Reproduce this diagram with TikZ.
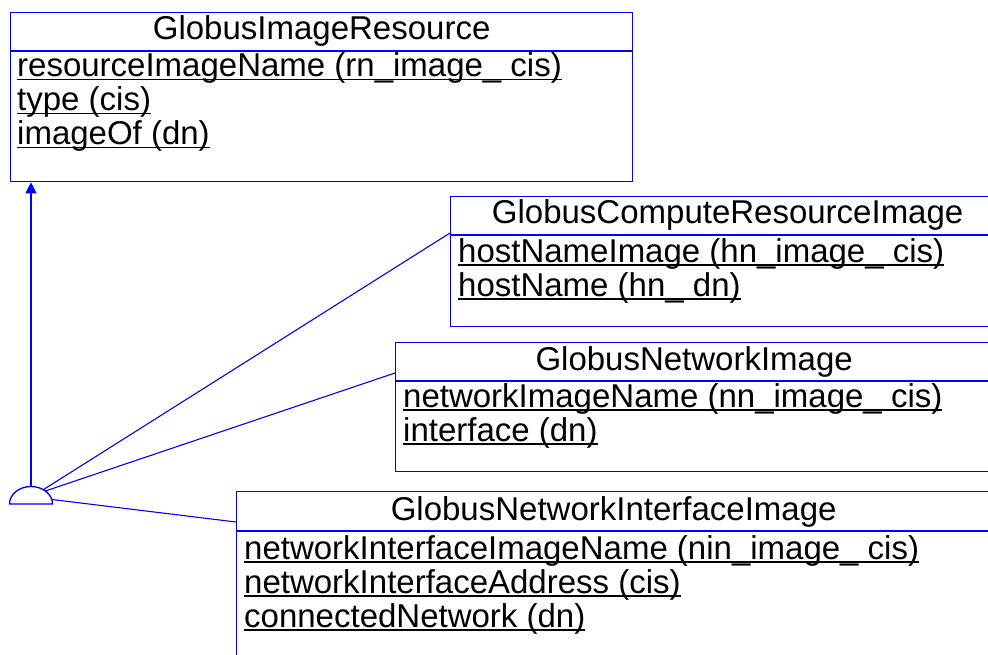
\documentclass[tikz,border=0pt]{standalone}
\usepackage{fontspec}
\setmainfont{Liberation Sans}
\usetikzlibrary{arrows.meta, positioning}
\definecolor{umlblue}{RGB}{0,0,255}
\newcommand{\attrul}[1]{\leavevmode\setbox0=\hbox{#1}\rlap{\rule[-3.5pt]{\wd0}{1.6pt}}\copy0}
\tikzset{
x=1pt, y=1pt,
every node/.style={font=\fontsize{33}{34}\selectfont, inner sep=0pt}, % all texts in one size
classbox/.style={draw=umlblue, line width=1.3pt, anchor=north west, inner sep=0pt},
classname/.style={anchor=base},
attribute/.style={anchor=base west},
divider/.style={draw=umlblue, line width=1.3pt},
link/.style={draw=umlblue, line width=1.1pt},
}

\begin{document}
\begin{tikzpicture}
        \clip (0,0) rectangle (988,-655);

        % class boxes
        \node[classbox, minimum width=622pt, minimum height=169pt] (gir) at (10,-12) {};
        \node[classbox, minimum width=554pt, minimum height=130pt] (gcri) at (450,-196) {};
        \node[classbox, minimum width=597pt, minimum height=129pt] (gni) at (395,-342) {};
        \node[classbox, minimum width=754pt, minimum height=220pt] (gnii) at (236,-491) {};

        % header lines
        \draw[divider] ([yshift=-39pt]gir.north west) -- ([yshift=-39pt]gir.north east);
        \draw[divider] ([yshift=-39pt]gcri.north west) -- ([yshift=-39pt]gcri.north east);
        \draw[divider] ([yshift=-39pt]gni.north west) -- ([yshift=-39pt]gni.north east);
        \draw[divider] ([yshift=-40pt]gnii.north west) -- ([yshift=-40pt]gnii.north east);

        % class names
        \node[classname] (girname) at ([yshift=-28pt]gir.north) {GlobusImageResource};
        \node[classname] (gcriname) at ([yshift=-28pt]gcri.north) {GlobusComputeResourceImage};
        \node[classname] (gniname) at ([yshift=-28pt]gni.north) {GlobusNetworkImage};
        \node[classname] (gniiname) at ([yshift=-29pt]gnii.north) {GlobusNetworkInterfaceImage};

        % attributes
        \node[attribute] (gira) at ([xshift=7pt, yshift=-65pt]gir.north west) {\attrul{resourceImageName (rn\_image\_ cis)}};
        \node[attribute] (girb) at ([yshift=-34pt]gira.base west) {\attrul{type (cis)}};
        \node[attribute] (girc) at ([yshift=-34pt]girb.base west) {\attrul{imageOf (dn)}};

        \node[attribute] (gcria) at ([xshift=8pt, yshift=-66pt]gcri.north west) {\attrul{hostNameImage (hn\_image\_ cis)}};
        \node[attribute] (gcrib) at ([yshift=-34pt]gcria.base west) {\attrul{hostName (hn\_ dn)}};

        \node[attribute] (gnia) at ([xshift=8pt, yshift=-65pt]gni.north west) {\attrul{networkImageName (nn\_image\_ cis)}};
        \node[attribute] (gnib) at ([yshift=-34pt]gnia.base west) {\attrul{interface (dn)}};

        \node[attribute] (gniia) at ([xshift=8pt, yshift=-68pt]gnii.north west) {\attrul{networkInterfaceImageName (nin\_image\_ cis)}};
        \node[attribute] (gniib) at ([yshift=-34pt]gniia.base west) {\attrul{networkInterfaceAddress (cis)}};
        \node[attribute] (gniic) at ([yshift=-34pt]gniib.base west) {\attrul{connectedNetwork (dn)}};

        % inheritance
        \coordinate (inh) at (31,-504);
        \coordinate (inhtop) at ([yshift=17.5pt]inh);
        \coordinate (inha) at ([shift={(55:21.5pt and 17.5pt)}]inh);
        \coordinate (inhb) at ([shift={(48:21.5pt and 17.5pt)}]inh);
        \coordinate (inhc) at ([shift={(15:21.5pt and 17.5pt)}]inh);
        \draw[divider] ([xshift=-21.5pt]inh) arc[start angle=180, end angle=0, x radius=21.5pt, y radius=17.5pt] -- cycle;

        \draw[link, -{Triangle[length=11pt, width=11pt]}] (inhtop) -- (inhtop |- gir.south);
        \draw[link] (inha) -- ([yshift=-37pt]gcri.north west);
        \draw[link] (inhb) -- ([yshift=-31pt]gni.north west);
        \draw[link] (inhc) -- ([yshift=-31pt]gnii.north west);
\end{tikzpicture}
\end{document}
